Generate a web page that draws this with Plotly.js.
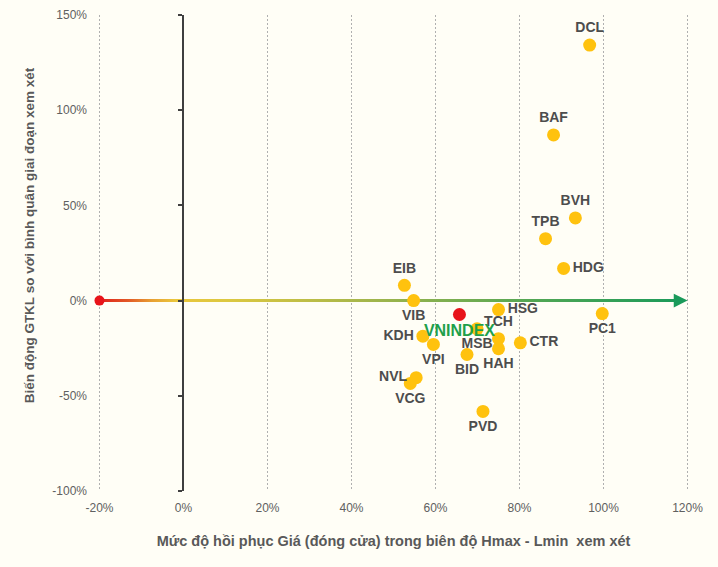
<!DOCTYPE html>
<html>
<head>
<meta charset="utf-8">
<script src="https://cdn.plot.ly/plotly-3.0.1.min.js"></script>
<style>html,body{margin:0;padding:0;background:#fffef6;}#chart{width:718px;height:567px;}</style>
</head>
<body>
<div id="chart"></div>
<script>
// ---- data ----
const tickers = ["DCL","BAF","BVH","TPB","HDG","EIB","VIB","HSG","PC1","TCH","CTR","MSB","HAH","BID","VPI","KDH","NVL","VCG","PVD"];
const recovery = [0.967,0.881,0.933,0.862,0.905,0.526,0.548,0.750,0.997,0.750,0.802,0.699,0.750,0.675,0.595,0.570,0.554,0.540,0.713];
const volumeChange = [1.342,0.870,0.434,0.325,0.169,0.080,0.000,-0.047,-0.068,-0.200,-0.222,-0.148,-0.253,-0.283,-0.230,-0.187,-0.405,-0.435,-0.582];
const labelPos = ["top center","top center","top center","top center","middle right","top center","bottom center","middle right","bottom center","top center","middle right","bottom center","bottom center","bottom center","bottom center","middle left","middle left","bottom center","bottom center"];
const indexName = ["VNINDEX"];
const indexRecovery = [0.657];
const indexVolume = [-0.073];

const xTickVals = [-0.2,0,0.2,0.4,0.6,0.8,1.0,1.2];
const xTickText = ["-20%","0%","20%","40%","60%","80%","100%","120%"];
const yTickVals = [-1,-0.5,0,0.5,1,1.5];
const yTickText = ["-100%","-50%","0%","50%","100%","150%"];

const xRange = [-0.2035, 1.2035];
const yRange = [-1, 1.5];
const lineStart = -0.2, lineEnd = 1.2;

const labelFont = {family:"Liberation Sans, Arial, sans-serif", size:14, color:"#4d4d4d", weight:"bold"};

const traces = [
  // gradient horizontal reference line along y = 0
  {
    x:[lineStart, lineEnd-0.012, lineEnd-0.012, lineStart],
    y:[-0.008,-0.008,0.008,0.008],
    mode:"lines", fill:"toself", line:{width:0},
    fillgradient:{type:"horizontal", colorscale:[
      [0,"#e0201b"],[0.05,"#e25a26"],[0.09,"#e8a032"],[0.13,"#eac63c"],[0.22,"#dcc840"],[0.32,"#c6c044"],
      [0.45,"#a6b64a"],[0.6,"#7cae50"],[0.75,"#50a654"],[1,"#1a9a5a"]]},
    hoverinfo:"skip", showlegend:false
  },
  // red start dot (also carries the x = 0 axis)
  {
    x:[lineStart], y:[0], xaxis:"x", yaxis:"y2",
    mode:"markers", marker:{color:"#e8141a", size:10},
    cliponaxis:false, hoverinfo:"skip", showlegend:false
  },
  // stocks
  {
    x:recovery, y:volumeChange, text:tickers,
    mode:"markers+text", textposition:labelPos,
    textfont:labelFont,
    marker:{color:"#ffc20e", size:13},
    cliponaxis:false, hoverinfo:"skip", showlegend:false
  },
  // index
  {
    x:indexRecovery, y:indexVolume, text:indexName,
    mode:"markers+text", textposition:"bottom center",
    textfont:{family:"Liberation Sans, Arial, sans-serif", size:16, color:"#1fa04a", weight:"bold"},
    marker:{color:"#e8141a", size:13},
    cliponaxis:false, hoverinfo:"skip", showlegend:false
  }
];

const layout = {
  width:718, height:567,
  paper_bgcolor:"#fffef6", plot_bgcolor:"#fffef6",
  margin:{l:97.5, r:28.5, t:15, b:76},
  showlegend:false,
  font:{family:"Liberation Sans, Arial, sans-serif", color:"#595959"},
  xaxis:{
    range:xRange, tickvals:xTickVals, ticktext:xTickText,
    showgrid:true, gridcolor:"#b0b0b0", griddash:"2px,2px", gridwidth:1,
    zeroline:false, showline:false, ticks:"", ticklabelstandoff:8,
    tickfont:{size:12, color:"#606060"},
    title:{text:"<b>Mức độ hồi phục Giá (đóng cửa) trong biên độ Hmax - Lmin  xem xét</b>", font:{size:14.5, color:"#595959"}, standoff:21}
  },
  yaxis:{
    range:yRange, tickvals:yTickVals, ticktext:yTickText,
    showgrid:false, zeroline:false, showline:false, ticks:"", ticklabelstandoff:10,
    tickfont:{size:12, color:"#606060"}
  },
  yaxis2:{
    range:yRange, tickvals:yTickVals, overlaying:"y", anchor:"free",
    position:(0 - xRange[0])/(xRange[1]-xRange[0]), side:"left",
    showgrid:false, zeroline:false, showline:true, linecolor:"#3f3f3f", linewidth:2,
    ticks:"outside", ticklen:4, tickwidth:2, tickcolor:"#3f3f3f", showticklabels:false
  },
  annotations:[
    {
      x:lineEnd, y:0, ax:lineEnd-0.03, ay:0, axref:"x", ayref:"y", xref:"x", yref:"y",
      text:"", showarrow:true, arrowhead:2, arrowsize:1.1, arrowwidth:2.5, arrowcolor:"#1a9a5a", standoff:0
    },
    {
      xref:"paper", yref:"paper", x:0, xshift:-68.5, y:0.536, xanchor:"center", yanchor:"middle",
      textangle:-90, showarrow:false,
      text:"<b>Biến động GTKL so với bình quân giai đoạn xem xét</b>",
      font:{size:13.5, color:"#595959"}
    }
  ]
};

Plotly.newPlot("chart", traces, layout, {staticPlot:true, displayModeBar:false});
</script>
</body>
</html>
